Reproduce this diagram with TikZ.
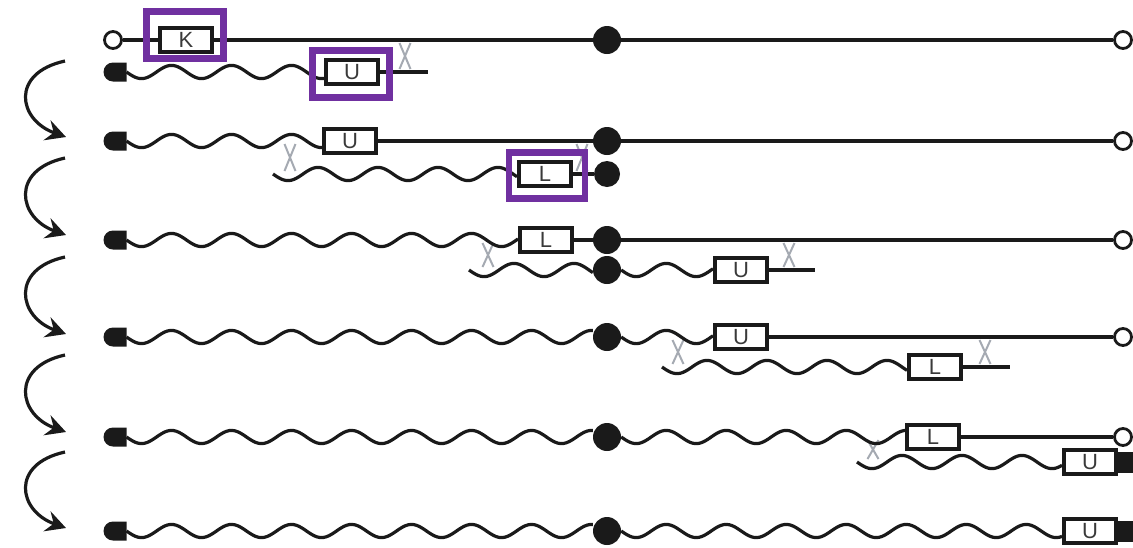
\documentclass[tikz,border=0pt]{standalone}
\usepackage{fontspec}
\setmainfont{Liberation Sans}
\usetikzlibrary{arrows.meta,calc,shapes.misc}
\definecolor{hlpurple}{HTML}{7030A0}
\definecolor{xgray}{RGB}{165,170,178}
\definecolor{txtgray}{HTML}{3A3A3A}
\definecolor{ink}{HTML}{1A1A1A}
\newcommand\xcross[3]{\draw[xline] (#1-5.5,#2+3) -- (#1+5.5,#3-3) (#1+5.5,#2+3) -- (#1-5.5,#3-3);}
% wavy strand between two named anchors (same height)
\newcommand\wavy[2]{\draw[wave] let \p1=(#1), \p2=(#2) in
  plot[variable=\t, domain=\x1:\x2, samples=160, smooth] ({\t*1pt}, {\y1-6.6pt*sin(6*(\t-\x1))});}
\begin{document}
\begin{tikzpicture}[x=1pt,y=-1pt,
  strand/.style={line width=3.8pt, draw=ink},
  wave/.style={line width=3.2pt, draw=ink, line join=round},
  lbox/.style={draw=ink, line width=4pt, fill=white, minimum width=52pt, minimum height=24pt, inner sep=0pt,
    font=\fontsize{22}{23}\selectfont, text=txtgray},
  bigdot/.style={circle, fill=ink, minimum size=28pt, inner sep=0pt},
  smalldot/.style={circle, fill=ink, minimum size=26pt, inner sep=0pt},
  opendot/.style={circle, draw=ink, line width=2.8pt, fill=white, minimum size=17pt, inner sep=0pt},
  capL/.style={rounded rectangle, rounded rectangle right arc=none, fill=ink, minimum width=23pt, minimum height=19pt, inner sep=0pt, outer sep=0pt},
  capR/.style={rectangle, fill=ink, minimum width=18pt, minimum height=21pt, inner sep=0pt},
  hl/.style={draw=hlpurple, line width=6.5pt, inner sep=0pt},
  xline/.style={draw=xgray, line width=2pt},
  turn/.style={line width=3.2pt, draw=ink, -{Stealth[length=20pt, width=21pt, inset=7pt]}}
]
\useasboundingbox (0,0) rectangle (1133,547);

% crossover marks
\xcross{405}{40}{72}
\xcross{290}{141}{174}
\xcross{582}{141}{174}
\xcross{488}{240}{270}
\xcross{789}{240}{270}
\xcross{678}{337}{367}
\xcross{985}{337}{367}
\xcross{873}{437}{462}

% ---------- row 1 ----------
\node[opendot] (o1L) at (113,40) {};
\node[lbox] (K) at (186,40) {K};
\node[bigdot] (d1) at (607,40) {};
\node[opendot] (o1R) at (1123,40) {};
\draw[strand] (o1L) -- (K) (K) -- (d1) (d1) -- (o1R);

\node[capL] (c1) at (115,72) {};
\node[lbox] (U1) at (352,72) {U};
\coordinate (e1) at (428,72);
\wavy{c1.east}{U1.west}
\draw[strand] (U1.east) -- (e1);

% ---------- row 2 ----------
\node[capL] (c2) at (115,141) {};
\node[lbox] (U2) at (350,141) {U};
\node[bigdot] (d2) at (607,141) {};
\node[opendot] (o2R) at (1123,141) {};
\wavy{c2.east}{U2.west}
\draw[strand] (U2) -- (d2) (d2) -- (o2R);

\coordinate (s2b) at (273,174);
\node[lbox] (L2) at (545,174) {L};
\node[smalldot] (d2b) at (607,174) {};
\wavy{s2b}{L2.west}
\draw[strand] (L2) -- (d2b);

% ---------- row 3 ----------
\node[capL] (c3) at (115,240) {};
\node[lbox] (L3) at (546,240) {L};
\node[bigdot] (d3) at (607,240) {};
\node[opendot] (o3R) at (1123,240) {};
\wavy{c3.east}{L3.west}
\draw[strand] (L3) -- (d3) (d3) -- (o3R);

\coordinate (s3b) at (469,270);
\node[bigdot] (d3b) at (607,270) {};
\node[lbox] (U3) at (741,270) {U};
\coordinate (e3b) at (815,270);
\wavy{s3b}{d3b.west}
\wavy{d3b.east}{U3.west}
\draw[strand] (U3.east) -- (e3b);

% ---------- row 4 ----------
\node[capL] (c4) at (115,337) {};
\node[bigdot] (d4) at (607,337) {};
\node[lbox] (U4) at (741,337) {U};
\node[opendot] (o4R) at (1123,337) {};
\wavy{c4.east}{d4.west}
\wavy{d4.east}{U4.west}
\draw[strand] (U4) -- (o4R);

\coordinate (s4b) at (662,367);
\node[lbox] (L4) at (935,367) {L};
\coordinate (e4b) at (1010,367);
\wavy{s4b}{L4.west}
\draw[strand] (L4.east) -- (e4b);

% ---------- row 5 ----------
\node[capL] (c5) at (115,437) {};
\node[bigdot] (d5) at (607,437) {};
\node[lbox] (L5) at (933,437) {L};
\node[opendot] (o5R) at (1123,437) {};
\wavy{c5.east}{d5.west}
\wavy{d5.east}{L5.west}
\draw[strand] (L5) -- (o5R);

\coordinate (s5b) at (857,462);
\node[lbox] (U5) at (1090,462) {U};
\node[capR] (r5) at (1127,462) {};
\wavy{s5b}{U5.west}

% ---------- row 6 ----------
\node[capL] (c6) at (115,531) {};
\node[bigdot] (d6) at (607,531) {};
\node[lbox] (U6) at (1090,531) {U};
\node[capR] (r6) at (1127,531) {};
\wavy{c6.east}{d6.west}
\wavy{d6.east}{U6.west}

% ---------- turn arrows ----------
\coordinate (a1s) at (65,61);  \coordinate (a1e) at (66,137);
\coordinate (a2s) at (65,158); \coordinate (a2e) at (66,235);
\coordinate (a3s) at (65,257); \coordinate (a3e) at (66,334);
\coordinate (a4s) at (65,355); \coordinate (a4e) at (66,432);
\coordinate (a5s) at (65,452); \coordinate (a5e) at (66,528);
\foreach \i in {1,...,5}{
  \draw[turn] (a\i s) .. controls +(-55,12) and +(-48,-17) .. (a\i e);
}

% ---------- highlight frames ----------
\node[hl, minimum width=77pt, minimum height=47pt] (hK) at (185,35) {};
\node[hl, minimum width=77pt, minimum height=47pt] (hU) at (351,74) {};
\node[hl, minimum width=76pt, minimum height=46pt] (hL) at (547,175.5) {};
\end{tikzpicture}
\end{document}
